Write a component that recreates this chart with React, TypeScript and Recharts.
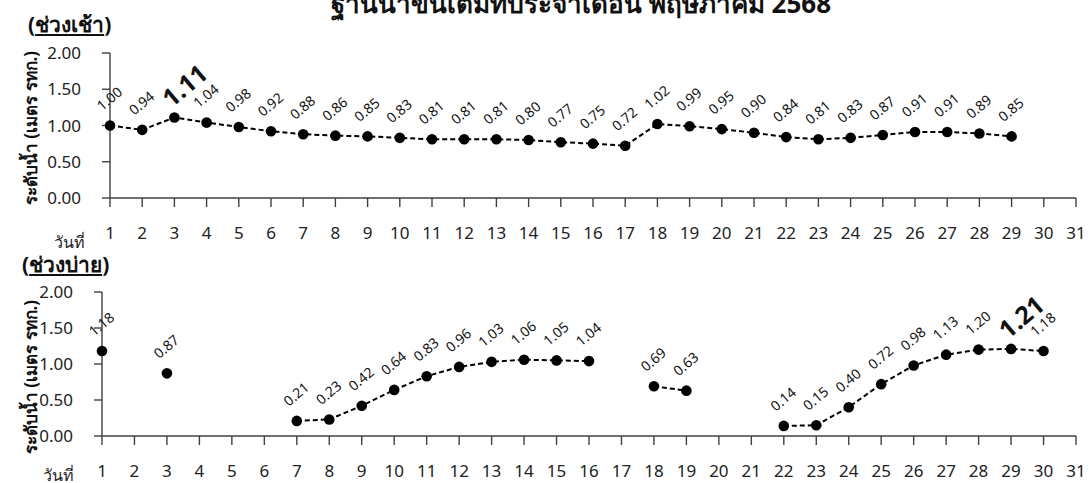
import { LineChart, Line, XAxis, YAxis } from 'recharts';

const days = [1, 2, 3, 4, 5, 6, 7, 8, 9, 10, 11, 12, 13, 14, 15, 16, 17, 18, 19, 20, 21, 22, 23, 24, 25, 26, 27, 28, 29, 30, 31];
const levelTicks = [0, 0.5, 1, 1.5, 2];

// ช่วงเช้า
const morningLevels: (number | null)[] = [
  1.0, 0.94, 1.11, 1.04, 0.98, 0.92, 0.88, 0.86, 0.85, 0.83, 0.81, 0.81, 0.81, 0.8, 0.77, 0.75,
  0.72, 1.02, 0.99, 0.95, 0.9, 0.84, 0.81, 0.83, 0.87, 0.91, 0.91, 0.89, 0.85, null, null,
];

// ช่วงบ่าย
const afternoonLevels: (number | null)[] = [
  1.18, null, 0.87, null, null, null, 0.21, 0.23, 0.42, 0.64, 0.83, 0.96, 1.03, 1.06, 1.05, 1.04,
  null, 0.69, 0.63, null, null, 0.14, 0.15, 0.4, 0.72, 0.98, 1.13, 1.2, 1.21, 1.18, null,
];

const title = 'ฐานน้ำขึ้นเต็มที่ประจำเดือน พฤษภาคม 2568';
const yTitle = 'ระดับน้ำ (เมตร รทก.)';

const FONT = "Tahoma, 'Noto Sans', 'DejaVu Sans', sans-serif";
const AXIS = '#404040';
const ANGLE = 40;

// lay the glyphs out along a slanted baseline, each glyph turned with the rotate attribute
function slanted(str: string, sx: number, sy: number, fs: number) {
  const c = Math.cos((ANGLE * Math.PI) / 180);
  const s = Math.sin((ANGLE * Math.PI) / 180);
  const xs: number[] = [];
  const ys: number[] = [];
  let d = 0;
  for (const ch of str) {
    xs.push(+(sx + d * c).toFixed(2));
    ys.push(+(sy - d * s).toFixed(2));
    d += (ch === '.' ? 0.27 : 0.572) * fs;
  }
  return { x: xs.join(' '), y: ys.join(' '), rotate: str.split('').map(() => -ANGLE).join(' ') };
}

// dot + slanted value label drawn together
function makeDot(peak: number) {
  return (p: any) => {
    const value = p.payload?.level;
    if (value == null || p.cx == null || p.cy == null) return <g key={p.index} />;
    const big = value === peak;
    const fs = big ? 25 : 14;
    const sx = big ? p.cx - 3 : p.cx - 8;
    const sy = big ? p.cy - 9 : p.cy - 14;
    const pos = slanted(value.toFixed(2), sx, sy, fs);
    return (
      <g key={p.index}>
        <circle cx={p.cx} cy={p.cy} r={5.3} fill="#000" />
        <text x={pos.x} y={pos.y} rotate={pos.rotate} fontSize={fs} fontWeight={big ? 700 : 400} fill="#111">
          {value.toFixed(2)}
        </text>
      </g>
    );
  };
}

function Panel({ levels, top, height, axisLeft, plotTop }: {
  levels: (number | null)[];
  top: number;
  height: number;
  axisLeft: number;
  plotTop: number;
}) {
  const data = days.map((d, i) => ({ day: d, level: levels[i] }));
  const peak = Math.max(...(levels.filter(v => v != null) as number[]));
  return (
    <div style={{ position: 'absolute', left: 0, top, fontFamily: FONT }}>
      <LineChart
        width={1090}
        height={height}
        data={data}
        margin={{ top: plotTop, right: 14, bottom: 4, left: 0 }}
      >
        <XAxis
          dataKey="day"
          type="number"
          domain={[1, 31]}
          ticks={days}
          interval={0}
          tickSize={9}
          tickMargin={20}
          height={42}
          stroke={AXIS}
          strokeWidth={1.4}
          tick={{ fontSize: 17, fill: '#222' }}
        />
        <YAxis
          type="number"
          domain={[0, 2]}
          ticks={levelTicks}
          width={axisLeft}
          tickSize={8}
          tickMargin={21}
          stroke={AXIS}
          strokeWidth={1.4}
          tickFormatter={(v: number) => v.toFixed(2)}
          tick={{ fontSize: 17, fill: '#222' }}
        />
        <Line
          dataKey="level"
          stroke="#000"
          strokeWidth={2}
          strokeDasharray="5 3"
          dot={makeDot(peak)}
          activeDot={false}
          isAnimationActive={false}
        />
      </LineChart>
    </div>
  );
}

function Heading({ text, left, top }: { text: string; left: number; top: number }) {
  return (
    <div
      style={{
        position: 'absolute',
        left,
        top,
        fontFamily: FONT,
        fontSize: 21,
        fontWeight: 700,
        lineHeight: 1,
        whiteSpace: 'nowrap',
        color: '#111',
      }}
    >
      (<span style={{ textDecoration: 'underline' }}>{text}</span>)
    </div>
  );
}

function SideTitle({ centerY }: { centerY: number }) {
  return (
    <div
      style={{
        position: 'absolute',
        left: 30,
        top: centerY,
        transform: 'translate(-50%, -50%) rotate(-90deg)',
        fontFamily: FONT,
        fontSize: 17,
        fontWeight: 700,
        whiteSpace: 'nowrap',
        color: '#111',
      }}
    >
      {yTitle}
    </div>
  );
}

function DayWord({ left, top }: { left: number; top: number }) {
  return (
    <div
      style={{
        position: 'absolute',
        left,
        top,
        fontFamily: FONT,
        fontSize: 16,
        lineHeight: 1,
        whiteSpace: 'nowrap',
        color: '#222',
      }}
    >
      วันที่
    </div>
  );
}

export default function App() {
  return (
    <div
      style={{
        position: 'absolute',
        left: 0,
        top: 0,
        width: 1090,
        height: 483,
        overflow: 'hidden',
        background: '#fff',
      }}
    >
      <div
        style={{
          position: 'absolute',
          left: 581,
          top: -10,
          transform: 'translateX(-50%)',
          fontFamily: FONT,
          fontSize: 26,
          fontWeight: 700,
          lineHeight: 1,
          whiteSpace: 'nowrap',
          color: '#111',
        }}
      >
        {title}
      </div>

      <Panel levels={morningLevels} top={0} height={244} axisLeft={110} plotTop={53} />
      <Panel levels={afternoonLevels} top={240} height={242} axisLeft={102} plotTop={52} />

      <Heading text="ช่วงเช้า" left={28} top={14} />
      <Heading text="ช่วงบ่าย" left={22} top={254} />

      <SideTitle centerY={128} />
      <SideTitle centerY={377} />

      <DayWord left={54} top={234} />
      <DayWord left={43} top={467} />
    </div>
  );
}
